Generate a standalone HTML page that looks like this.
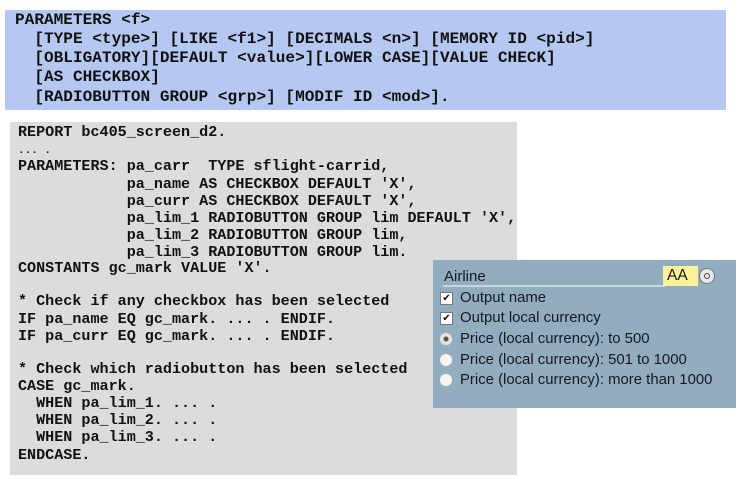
<!DOCTYPE html>
<html><head><meta charset="utf-8"><style>
*{margin:0;padding:0;box-sizing:border-box}
html,body{width:739px;height:479px;background:#fff;overflow:hidden;position:relative}
.mono{font-family:"Liberation Mono",monospace;font-weight:bold;color:#111;white-space:pre;position:absolute}
#blue{position:absolute;left:5px;top:10px;width:721px;height:100px;background:#b5c8f2}
#gray{position:absolute;left:10px;top:122px;width:507px;height:353px;background:#dcdcdc}
.b{font-size:16.1px;left:15px;line-height:19px}
.g{font-size:15.1px;left:18px;line-height:17px}
#panel{position:absolute;left:433px;top:260px;width:303px;height:148px;background:#93adc0}
.s{position:absolute;font-family:"Liberation Sans",sans-serif;font-size:14.9px;color:#141820;white-space:pre}
.cb{position:absolute;left:7px;width:13px;height:13px;background:#fff;border:1px solid #777;font-size:10px;line-height:11px;text-align:center;font-family:"DejaVu Sans",sans-serif;color:#111}
.rb{position:absolute;left:6px;width:14px;height:14px;border-radius:50%;background:#f6f6ee;border:1px solid #aab}
</style></head><body>
<div id="blue"></div>
<div class="mono b" style="top:11px">PARAMETERS &lt;f&gt;</div>
<div class="mono b" style="top:30px">  [TYPE &lt;type&gt;] [LIKE &lt;f1&gt;] [DECIMALS &lt;n&gt;] [MEMORY ID &lt;pid&gt;]</div>
<div class="mono b" style="top:49px">  [OBLIGATORY][DEFAULT &lt;value&gt;][LOWER CASE][VALUE CHECK]</div>
<div class="mono b" style="top:68px">  [AS CHECKBOX]</div>
<div class="mono b" style="top:88px">  [RADIOBUTTON GROUP &lt;grp&gt;] [MODIF ID &lt;mod&gt;].</div>

<div id="gray"></div>
<div class="mono g" style="top:124px">REPORT bc405_screen_d2.</div>
<div class="mono g" style="top:143px;font-size:11px">... .</div>
<div class="mono g" style="top:158px">PARAMETERS: pa_carr  TYPE sflight-carrid,</div>
<div class="mono g" style="top:176px">            pa_name AS CHECKBOX DEFAULT 'X',</div>
<div class="mono g" style="top:193px">            pa_curr AS CHECKBOX DEFAULT 'X',</div>
<div class="mono g" style="top:210px">            pa_lim_1 RADIOBUTTON GROUP lim DEFAULT 'X',</div>
<div class="mono g" style="top:227px">            pa_lim_2 RADIOBUTTON GROUP lim,</div>
<div class="mono g" style="top:244px">            pa_lim_3 RADIOBUTTON GROUP lim.</div>
<div class="mono g" style="top:260px">CONSTANTS gc_mark VALUE 'X'.</div>
<div class="mono g" style="top:293px">* Check if any checkbox has been selected</div>
<div class="mono g" style="top:311px">IF pa_name EQ gc_mark. ... . ENDIF.</div>
<div class="mono g" style="top:328px">IF pa_curr EQ gc_mark. ... . ENDIF.</div>
<div class="mono g" style="top:361px">* Check which radiobutton has been selected</div>
<div class="mono g" style="top:378px">CASE gc_mark.</div>
<div class="mono g" style="top:395px">  WHEN pa_lim_1. ... .</div>
<div class="mono g" style="top:412px">  WHEN pa_lim_2. ... .</div>
<div class="mono g" style="top:429px">  WHEN pa_lim_3. ... .</div>
<div class="mono g" style="top:447px">ENDCASE.</div>

<div id="panel">
  <div class="s" style="left:11px;top:8px;font-size:15px">Airline</div>
  <div style="position:absolute;left:10px;top:25px;width:222px;height:2px;background:#c8d6e0"></div>
  <div style="position:absolute;left:230px;top:6px;width:35px;height:20px;background:#fdf29a"></div>
  <div class="s" style="left:234px;top:7px;font-size:15.5px">AA</div>
  <div style="position:absolute;left:266px;top:8px;width:16px;height:16px;border-radius:50%;background:#e8e8e8;border:1px solid #777"></div>
  <div style="position:absolute;left:271px;top:13px;width:6px;height:6px;border-radius:50%;border:1px solid #444"></div>
  <div class="cb" style="top:32px">✔</div>
  <div class="s" style="left:27px;top:30px">Output name</div>
  <div class="cb" style="top:52px">✔</div>
  <div class="s" style="left:27px;top:50px">Output local currency</div>
  <div class="rb" style="top:72px;background:radial-gradient(circle,#555 0 2px,#e6e6e0 3px)"></div>
  <div class="s" style="left:27px;top:71px">Price (local currency): to 500</div>
  <div class="rb" style="top:93px"></div>
  <div class="s" style="left:27px;top:92px">Price (local currency): 501 to 1000</div>
  <div class="rb" style="top:113px"></div>
  <div class="s" style="left:27px;top:112px">Price (local currency): more than 1000</div>
</div>
</body></html>
